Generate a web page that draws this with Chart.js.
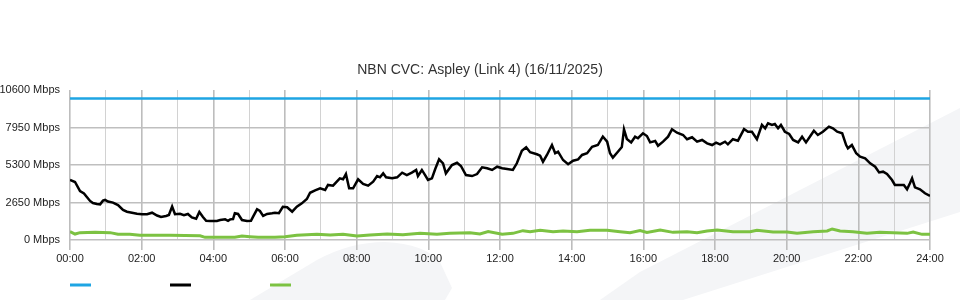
<!DOCTYPE html>
<html>
<head>
<meta charset="utf-8">
<script src="https://cdn.jsdelivr.net/npm/chart.js@4.4.1/dist/chart.umd.min.js"></script>
<style>
  html, body { margin: 0; padding: 0; background: #ffffff; }
  canvas { display: block; }
</style>
</head>
<body>
<canvas id="c" width="960" height="300"></canvas>
<script>
// ---------- data ----------
const chartTitle = 'NBN CVC: Aspley (Link 4) (16/11/2025)';
const xTickLabels = ['00:00','02:00','04:00','06:00','08:00','10:00','12:00','14:00','16:00','18:00','20:00','22:00','24:00'];
const yTickValues = [0, 2650, 5300, 7950, 10600];
const yUnit = 'Mbps';

// capacity (blue), hours / Mbps
const capacityHours = [0, 24];
const capacityMbps  = [10000, 10000];

// download traffic (black), hours / Mbps
const downHours = [0,0.14,0.28,0.39,0.47,0.56,0.64,0.75,0.84,0.92,0.98,1.06,1.20,1.34,1.48,1.59,1.73,1.87,2.01,2.15,2.29,2.43,2.54,2.68,2.76,2.85,2.93,3.07,3.18,3.29,3.40,3.52,3.61,3.71,3.80,3.91,4.10,4.19,4.33,4.41,4.47,4.55,4.60,4.69,4.80,4.94,5.05,5.11,5.22,5.30,5.39,5.50,5.64,5.72,5.83,5.94,6.06,6.20,6.33,6.47,6.61,6.70,6.84,6.98,7.12,7.20,7.34,7.53,7.62,7.70,7.79,7.90,8.04,8.18,8.32,8.46,8.57,8.65,8.74,8.82,8.99,9.13,9.27,9.40,9.54,9.66,9.71,9.82,9.91,9.99,10.10,10.19,10.30,10.41,10.49,10.66,10.80,10.91,11.05,11.22,11.36,11.50,11.64,11.78,11.92,12.06,12.20,12.36,12.47,12.61,12.73,12.84,13.03,13.12,13.20,13.31,13.45,13.54,13.62,13.76,13.90,14.04,14.18,14.29,14.43,14.57,14.73,14.87,14.99,15.07,15.15,15.29,15.40,15.46,15.54,15.66,15.77,15.85,15.99,16.10,16.19,16.33,16.41,16.55,16.69,16.80,16.94,17.11,17.22,17.36,17.50,17.64,17.78,17.92,18.03,18.14,18.28,18.36,18.50,18.64,18.81,18.92,19.03,19.17,19.31,19.40,19.48,19.59,19.67,19.76,19.84,19.95,20.07,20.18,20.32,20.43,20.54,20.68,20.76,20.87,21.01,21.18,21.29,21.41,21.55,21.66,21.71,21.82,21.94,22.05,22.19,22.33,22.47,22.58,22.69,22.80,22.94,23.02,23.16,23.27,23.36,23.44,23.50,23.58,23.72,23.86,24.00];
const downMbps = [4240,4100,3460,3290,3040,2760,2610,2540,2520,2780,2830,2720,2640,2470,2120,2000,1930,1860,1820,1820,1930,1730,1630,1700,1770,2370,1820,1850,1750,1840,1590,1500,1980,1630,1360,1340,1340,1410,1460,1360,1460,1480,1890,1840,1410,1340,1360,1650,2170,2050,1700,1840,1890,1930,1890,2350,2310,2000,2350,2590,2900,3340,3500,3650,3530,3890,3840,4360,4290,4660,3650,3650,4290,3960,3840,4120,4520,4430,4710,4430,4360,4430,4760,4590,4760,4950,4520,4950,4590,4240,4360,5000,5700,5420,4710,5300,5460,5230,4590,4520,4660,5140,5070,4950,5180,5070,5020,4950,5420,6310,6550,6200,6060,5960,5530,6010,6710,6130,6240,5650,5350,5600,5700,6010,6130,6590,6710,7310,6950,6130,5820,6240,6570,7820,7140,6900,7300,7190,7540,7350,6900,7000,6660,6950,7300,7820,7580,7420,7120,7260,6950,7070,6830,6710,6880,6760,6950,6760,7120,7020,7840,7650,7650,7120,8130,7890,8250,8130,8200,7890,8130,7650,7490,7070,6900,7300,6900,7420,7720,7420,7650,8010,7890,7650,7540,6710,6480,6710,6130,5890,5770,5420,5180,4780,4830,4660,4240,3890,3890,3890,3580,4010,4360,3720,3580,3300,3110];

// upload traffic (green), hours / Mbps
const upHours = [0,0.14,0.28,0.70,1.12,1.34,1.67,1.95,2.79,3.63,3.77,4.60,4.80,5.02,5.25,5.72,6.00,6.33,6.89,7.26,7.62,8.01,8.37,8.85,9.29,9.77,10.24,10.60,11.16,11.44,11.67,12.06,12.36,12.64,12.84,13.12,13.48,13.76,14.15,14.51,14.99,15.35,15.63,15.91,16.10,16.47,16.83,17.22,17.50,17.78,18.06,18.50,18.98,19.17,19.62,20.01,20.29,20.74,21.13,21.27,21.49,21.85,22.24,22.60,22.97,23.36,23.53,23.78,24.00];
const upMbps = [590,420,520,540,520,400,400,330,330,300,190,190,280,230,190,190,230,330,400,350,400,280,350,420,370,470,400,470,520,420,590,400,470,660,590,690,590,640,590,690,690,590,520,670,540,710,540,590,520,640,710,590,590,690,570,570,470,590,640,780,640,590,470,540,520,470,570,400,400];

// ---------- helpers ----------
const toXY = (xs, ys) => xs.map((x, i) => ({ x: x, y: ys[i] }));

const backgroundPlugin = {
  id: 'bgWatermark',
  beforeDraw(chart) {
    const ctx = chart.ctx;
    ctx.save();
    ctx.fillStyle = '#ffffff';
    ctx.fillRect(0, 0, chart.width, chart.height);
    ctx.fillStyle = '#f4f5f7';
    ctx.beginPath();
    ctx.moveTo(600, 300);
    ctx.lineTo(640, 272);
    ctx.lineTo(960, 108);
    ctx.lineTo(960, 212);
    ctx.lineTo(683, 300);
    ctx.closePath();
    ctx.fill();
    ctx.beginPath();
    ctx.moveTo(250, 300);
    ctx.lineTo(317, 260);
    ctx.quadraticCurveTo(350, 242, 385, 242);
    ctx.quadraticCurveTo(425, 244, 440, 262);
    ctx.lineTo(452, 288);
    ctx.lineTo(445, 300);
    ctx.closePath();
    ctx.fill();
    ctx.restore();
  }
};

// centre the title over the whole canvas width
const titleCenterPlugin = {
  id: 'titleCenter',
  afterLayout(chart) {
    const t = chart.titleBlock;
    if (t) { t.left = 0; t.right = chart.width; t.width = chart.width; }
  }
};

const legendLinesPlugin = {
  id: 'legendLines',
  afterDraw(chart) {
    const ctx = chart.ctx;
    const left = chart.chartArea.left;
    ctx.save();
    chart.data.datasets.forEach((ds, i) => {
      ctx.strokeStyle = ds.borderColor;
      ctx.lineWidth = 3;
      ctx.beginPath();
      ctx.moveTo(left + i * 100, 285);
      ctx.lineTo(left + i * 100 + 21, 285);
      ctx.stroke();
    });
    ctx.restore();
  }
};

const FONT = "'Liberation Sans', Arial, sans-serif";

new Chart(document.getElementById('c'), {
  type: 'line',
  data: {
    datasets: [
      { label: '', data: toXY(capacityHours, capacityMbps), borderColor: '#1ea5e3', borderWidth: 2.5, pointRadius: 0, tension: 0 },
      { label: '', data: toXY(downHours, downMbps), borderColor: '#000000', borderWidth: 2.5, pointRadius: 0, tension: 0 },
      { label: '', data: toXY(upHours, upMbps), borderColor: '#7cc242', borderWidth: 3, pointRadius: 0, tension: 0 }
    ]
  },
  options: {
    responsive: false,
    devicePixelRatio: 1,
    animation: false,
    layout: { padding: { left: 0, right: 30, top: 0, bottom: 0 } },
    plugins: {
      legend: { display: false },
      tooltip: { enabled: false },
      title: {
        display: true,
        text: chartTitle,
        color: '#333333',
        font: { family: FONT, size: 14, weight: 'normal' },
        padding: { top: 62, bottom: 11.2 }
      }
    },
    scales: {
      x: {
        type: 'linear',
        min: 0,
        max: 24,
        afterFit(scale) { scale.height = 60; },
        border: { display: false },
        grid: {
          color: c => (c.tick && c.tick.value % 2 === 0) ? '#bdbdbd' : '#d2d2d2',
          lineWidth: c => (c.tick && c.tick.value % 2 === 0) ? 1.6 : 1,
          tickColor: c => (c.tick && c.tick.value % 2 === 0) ? '#bdbdbd' : 'rgba(0,0,0,0)',
          tickLength: 10,
          drawTicks: true
        },
        ticks: {
          stepSize: 1,
          autoSkip: false,
          maxRotation: 0,
          padding: 2,
          color: '#222222',
          font: { family: FONT, size: 11 },
          callback: v => (v % 2 === 0 ? xTickLabels[v / 2] : '')
        }
      },
      y: {
        type: 'linear',
        min: 0,
        max: 10600,
        afterFit(scale) { scale.width = 70; },
        afterBuildTicks(scale) { scale.ticks = yTickValues.map(v => ({ value: v })); },
        border: { display: false },
        grid: {
          color: c => (c.tick && c.tick.value === 10600) ? 'rgba(0,0,0,0)' : '#bfbfbf',
          lineWidth: 1.6,
          drawTicks: false
        },
        ticks: {
          padding: 10,
          color: '#222222',
          font: { family: FONT, size: 11 },
          callback: function (v) { return String(v) + ' ' + yUnit; }
        }
      }
    }
  },
  plugins: [backgroundPlugin, titleCenterPlugin, legendLinesPlugin]
});
</script>
</body>
</html>
